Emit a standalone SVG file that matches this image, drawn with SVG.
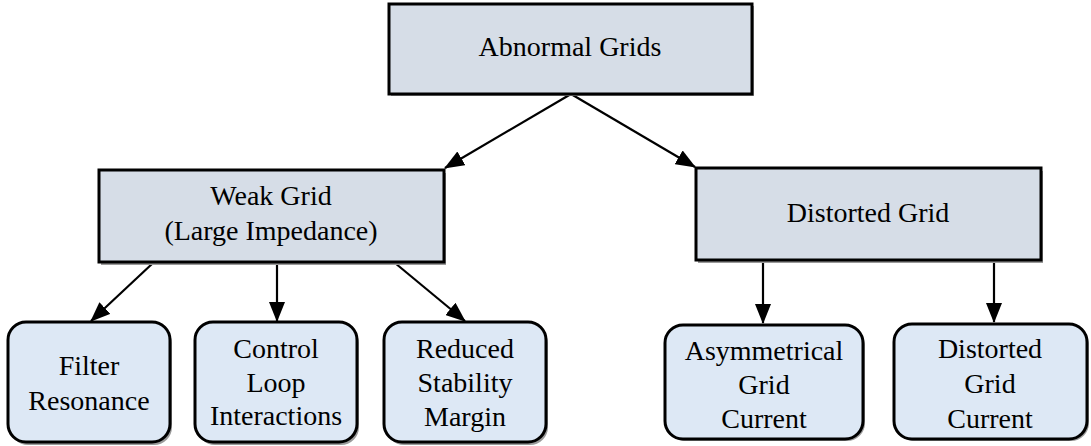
<svg xmlns="http://www.w3.org/2000/svg" width="1091" height="446" viewBox="0 0 1091 446">
<style>
.hd{fill:#d6dde7;stroke:#000;stroke-width:3}
.lf{fill:#dde8f5;stroke:#000;stroke-width:3}
.sh{fill:#9a9a9a;stroke:none}
.cn line{stroke:#000;stroke-width:2.2}
</style>
<defs>
<marker id="ah2" viewBox="0 0 20 16" refX="19" refY="8" markerWidth="20" markerHeight="16" orient="auto" markerUnits="userSpaceOnUse">
<path d="M0,0 L20,8 L0,16 z" fill="#000"/>
</marker>
</defs>
<g class="cn" id="connectors">
<line x1="571" y1="94" x2="445" y2="168" marker-end="url(#ah2)"/>
<line x1="571" y1="94" x2="695" y2="167" marker-end="url(#ah2)"/>
<line x1="153" y1="263" x2="91" y2="321" marker-end="url(#ah2)"/>
<line x1="277" y1="263" x2="277" y2="321" marker-end="url(#ah2)"/>
<line x1="395" y1="263" x2="465" y2="321" marker-end="url(#ah2)"/>
<line x1="763" y1="261" x2="763" y2="323" marker-end="url(#ah2)"/>
<line x1="994" y1="261" x2="994" y2="322" marker-end="url(#ah2)"/>
</g>
<g font-family="Times New Roman, Liberation Serif, Tinos, Noto Serif, DejaVu Serif, serif" font-size="28" text-anchor="middle" fill="#000">
<g id="abnormal">
<rect class="sh" x="391" y="6" width="363" height="90"/>
<rect class="hd" x="389" y="4" width="363" height="90"/>
<text x="570" y="56">Abnormal Grids</text>
</g>
<g id="weak">
<rect class="sh" x="101" y="173" width="345" height="92"/>
<rect class="hd" x="99" y="170" width="345" height="92"/>
<text x="271" y="205">Weak Grid</text>
<text x="271" y="240">(Large Impedance)</text>
</g>
<g id="distorted">
<rect class="sh" x="698" y="171" width="345" height="92"/>
<rect class="hd" x="696" y="168" width="345" height="92"/>
<text x="868" y="222">Distorted Grid</text>
</g>
<g id="filter">
<rect class="sh" x="10" y="325" width="162" height="120" rx="18"/>
<rect class="lf" x="8" y="322" width="162" height="120" rx="18"/>
<text x="89" y="375">Filter</text>
<text x="89" y="410">Resonance</text>
</g>
<g id="control">
<rect class="sh" x="197" y="325" width="162" height="120" rx="18"/>
<rect class="lf" x="195" y="322" width="162" height="120" rx="18"/>
<text x="276" y="358">Control</text>
<text x="276" y="392">Loop</text>
<text x="276" y="425">Interactions</text>
</g>
<g id="reduced">
<rect class="sh" x="386" y="325" width="162" height="120" rx="18"/>
<rect class="lf" x="384" y="322" width="162" height="120" rx="18"/>
<text x="465" y="358">Reduced</text>
<text x="465" y="392">Stability</text>
<text x="465" y="426">Margin</text>
</g>
<g id="asym">
<rect class="sh" x="667" y="327" width="198" height="114" rx="18"/>
<rect class="lf" x="665" y="325" width="198" height="114" rx="18"/>
<text x="764" y="360">Asymmetrical</text>
<text x="764" y="394">Grid</text>
<text x="764" y="428">Current</text>
</g>
<g id="distcur">
<rect class="sh" x="896" y="326" width="193" height="115" rx="18"/>
<rect class="lf" x="894" y="324" width="193" height="115" rx="18"/>
<text x="990" y="358">Distorted</text>
<text x="990" y="393">Grid</text>
<text x="990" y="428">Current</text>
</g>
</g>
</svg>
